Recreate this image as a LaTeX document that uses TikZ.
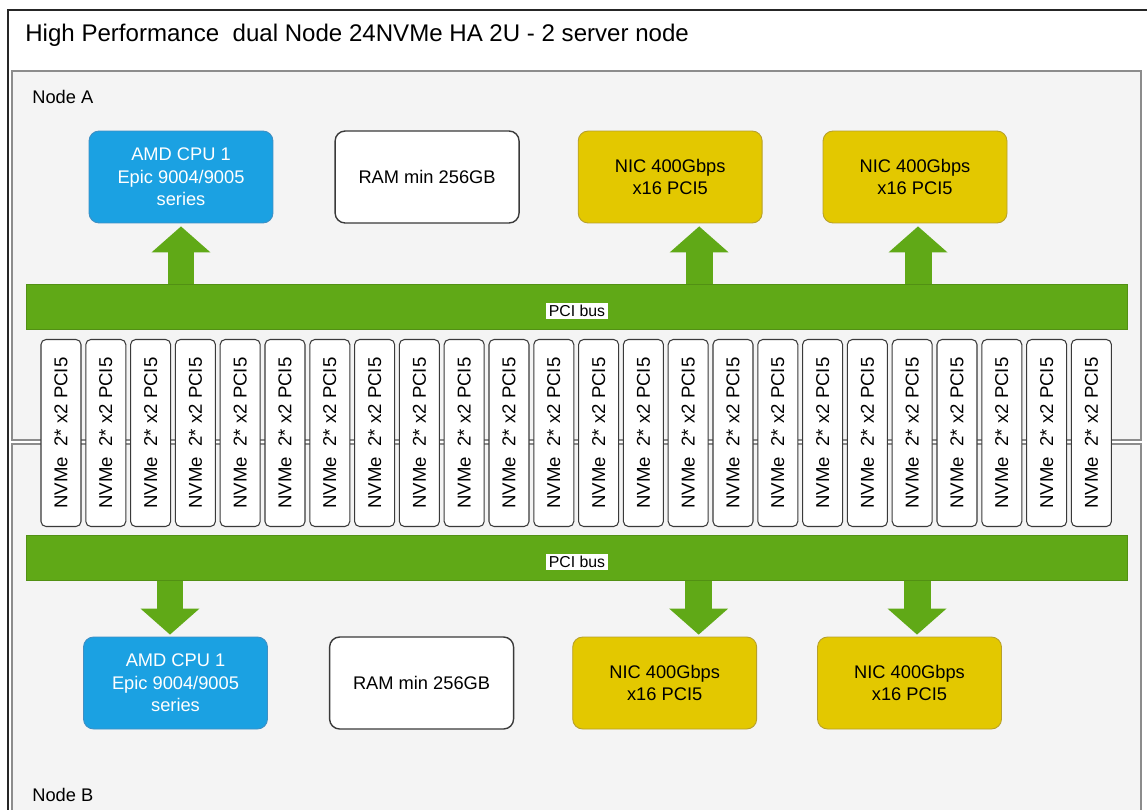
\documentclass[tikz,border=0pt]{standalone}
\usepackage{fontspec}
\setmainfont{Liberation Sans}
\usetikzlibrary{arrows.meta, positioning}
\definecolor{busgreen}{HTML}{60A917}
\definecolor{cpublue}{HTML}{1BA1E2}
\definecolor{cpuedge}{HTML}{3E8FC4}
\definecolor{nicyellow}{HTML}{E3C800}
\definecolor{nicedge}{HTML}{B7A02A}
\definecolor{panelgray}{HTML}{F4F4F4}
\definecolor{paneledge}{HTML}{8C8C8C}
\definecolor{boxedge}{HTML}{3A3A3A}
\tikzset{
  cpubox/.style={rectangle, draw=cpuedge, fill=cpublue, text=white,
    minimum width=3.68cm, minimum height=1.84cm, align=center,
    rounded corners=0.2cm, line width=0.5pt,
    font=\fontsize{10.4}{12.8}\selectfont},
  rambox/.style={cpubox, draw=boxedge, fill=white, text=black, line width=0.8pt},
  nicbox/.style={cpubox, draw=nicedge, fill=nicyellow, text=black},
  nvmebox/.style={rectangle, draw=boxedge, fill=white, rotate=90,
    minimum width=3.74cm, minimum height=0.8cm, inner sep=0pt,
    rounded corners=0.1cm, line width=0.6pt,
    font=\fontsize{10.6}{12}\selectfont},
  pcibus/.style={rectangle, fill=busgreen, draw=busgreen!85!black,
    minimum width=22.02cm, minimum height=0.9cm, inner sep=0pt, line width=0.3pt},
  buslabel/.style={fill=white, inner sep=1.5pt, font=\fontsize{9}{10}\selectfont},
  busarrow/.style={draw=busgreen, line width=0.54cm,
    -{Triangle[width=1.18cm, length=0.52cm, line width=0pt, fill=busgreen]}},
  panel/.style={draw=paneledge, fill=panelgray, line width=1.1pt},
  panellabel/.style={anchor=west, inner sep=0pt, font=\fontsize{10.4}{12}\selectfont},
  outerframe/.style={draw=black!85, line width=0.9pt}
}

\begin{document}
\begin{tikzpicture}[x=0.02cm, y=-0.02cm]
  \useasboundingbox (0,0) rectangle (1147,809);
  \clip (0,0) rectangle (1147,809);

  % Frame and title
  \draw[outerframe] (8,10) rectangle (1180,840);
  \node[anchor=west, inner sep=0pt, font=\fontsize{13.7}{16}\selectfont] (title) at (25,35)
    {High Performance\ \ dual Node 24NVMe HA 2U - 2 server node};

  % Server node panels
  \draw[panel] (12,71) rectangle (1141,440);
  \draw[panel] (12,444) rectangle (1141,840);
  \node[panellabel] (lblA) at (32,97) {Node A};
  \node[panellabel] (lblB) at (32,795) {Node B};

  % Shared NVMe drives
  \foreach \i in {0,...,23}
    \node[nvmebox] (nvme\i) at ({61+44.8*\i}, 433) {NVMe\ \ 2* x2 PCI5};

  % PCI buses
  \node[pcibus] (busA) at (576.5,306.5) {};
  \node[buslabel] (busAlbl) at (577,311) {PCI bus};
  \node[pcibus] (busB) at (576.5,558) {};
  \node[buslabel] (busBlbl) at (577,562) {PCI bus};

  % Node A components
  \node[cpubox] (cpuA) at (181,177) {AMD CPU 1\\Epic 9004/9005\\series};
  \node[rambox, right=1.22cm of cpuA] (ramA) {RAM min 256GB};
  \node[nicbox, right=1.16cm of ramA] (nicA1) {NIC 400Gbps\\x16 PCI5};
  \node[nicbox, right=1.2cm of nicA1] (nicA2) {NIC 400Gbps\\x16 PCI5};

  % Node B components
  \node[cpubox] (cpuB) at (175.5,683) {AMD CPU 1\\Epic 9004/9005\\series};
  \node[rambox, right=1.22cm of cpuB] (ramB) {RAM min 256GB};
  \node[nicbox, right=1.16cm of ramB] (nicB1) {NIC 400Gbps\\x16 PCI5};
  \node[nicbox, right=1.2cm of nicB1] (nicB2) {NIC 400Gbps\\x16 PCI5};

  % Bus taps
  \coordinate (tipA0) at ([yshift=-0.06cm]cpuA.south);
  \coordinate (tipA1) at ([xshift=0.58cm, yshift=-0.06cm]nicA1.south);
  \coordinate (tipA2) at ([xshift=0.06cm, yshift=-0.06cm]nicA2.south);
  \coordinate (tipB0) at ([xshift=-0.11cm, yshift=0.04cm]cpuB.north);
  \coordinate (tipB1) at ([xshift=0.68cm, yshift=0.04cm]nicB1.north);
  \coordinate (tipB2) at ([xshift=0.15cm, yshift=0.04cm]nicB2.north);
  \foreach \k in {0,1,2} {
    \draw[busarrow] (busA.north -| tipA\k) -- (tipA\k);
    \draw[busarrow] (busB.south -| tipB\k) -- (tipB\k);
  }
\end{tikzpicture}
\end{document}
